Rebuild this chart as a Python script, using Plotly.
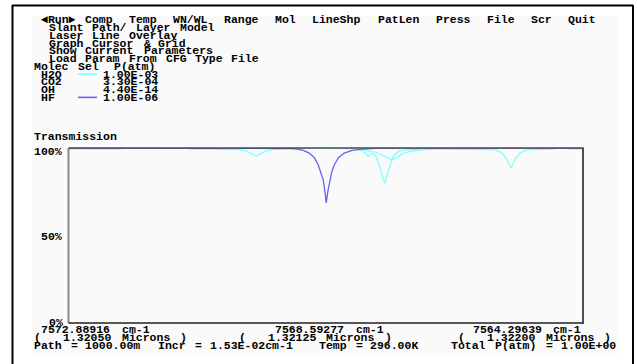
import plotly.graph_objects as go

W, H = 637, 364

# ---------------- data ----------------
wn_left, wn_mid, wn_right = 7572.88916, 7568.59277, 7564.29639

h2o_wn = [7572.8892, 7572.0216, 7571.9548, 7570.9204, 7570.8536, 7570.0527, 7569.9193,
          7569.8191, 7569.7524, 7569.6857, 7569.5855, 7569.4854, 7569.3519, 7569.1517,
          7568.1006, 7567.9838, 7567.9171, 7567.8837, 7567.8336, 7567.7669, 7567.7168,
          7567.6667, 7567.6084, 7567.5500, 7567.4999, 7567.4499, 7567.3831, 7567.2664,
          7567.0161, 7566.6824, 7565.8481, 7565.7313, 7565.6478, 7565.5811, 7565.5311,
          7565.4977, 7565.4643, 7565.4143, 7565.3475, 7565.2641, 7565.1473, 7564.7970,
          7564.7302, 7564.5634, 7564.5133, 7564.2964]
h2o_t = [99.3, 99.3, 100.0, 100.0, 99.3, 99.1, 98.3,
         96.6, 95.4, 96.6, 98.3, 99.1, 99.4, 100.0,
         99.7, 98.3, 96.6, 94.9, 97.1, 96.0, 92.0,
         86.3, 79.8, 86.3, 92.0, 96.0, 98.0, 98.9,
         99.3, 99.3, 99.1, 98.6, 97.1, 94.3, 90.9,
         88.4, 90.9, 94.3, 97.1, 98.6, 99.1, 99.3,
         100.0, 100.0, 99.3, 99.3]

# second, shallow cyan curve crossing the strong H2O line
h2o_b_wn = [7568.0172, 7567.8837, 7567.7669, 7567.6501, 7567.5500, 7567.4833,
            7567.4165, 7567.3164, 7567.1829, 7567.0161, 7566.7658]
h2o_b_t = [99.3, 98.6, 97.7, 96.0, 94.3, 93.1, 94.3, 96.6, 98.0, 98.9, 99.3]

hf_wn = [7572.8892, 7569.2686, 7569.1851, 7569.0683, 7568.9682, 7568.8681, 7568.7847,
         7568.7179, 7568.6679, 7568.6345, 7568.6061, 7568.5845, 7568.5594, 7568.5260,
         7568.4927, 7568.4510, 7568.3842, 7568.2841, 7568.1506, 7567.9838, 7567.8003,
         7567.6835, 7564.2964]
hf_t = [100.0, 100.0, 99.7, 99.3, 98.6, 97.1, 94.6,
        90.3, 85.7, 81.7, 74.9, 68.6, 74.9, 81.7,
        86.3, 90.3, 94.3, 97.1, 98.7, 99.3, 99.7,
        100.0, 100.0]

menu_rows = [
    " \u25c4Run\u25ba Comp  Temp  WN/WL  Range  Mol  LineShp  PatLen  Press  File  Scr  Quit",
    "  Slant Path/ Layer Model",
    "  Laser Line Overlay",
    "  Graph Cursor & Grid",
    "  Show Current Parameters",
    "  Load Param From CFG Type File",
    "Molec Sel  P(atm)",
]
molecules = ["H2O", "CO2", "OH", "HF"]
pressures = ["1.00E-03", "3.30E-04", "4.40E-14", "1.00E-06"]
mol_colors = ["#80ffff", None, None, "#6464f0"]

y_ticks = ["100%", "50%", "0%"]
wn_labels = ["7572.88916 cm-1", "7568.59277 cm-1", "7564.29639 cm-1"]
micron_labels = ["1.32050", "1.32125", "1.32200"]
status_row = "Path = 1000.00m  Incr = 1.53E-02cm-1   Temp = 296.00K    Total P(atm) = 1.00E+00"

# ---------------- layout helpers ----------------
X0, COLW = 32.0, 7.3125
Y0, ROWH = 16.0, 7.75
FONT = dict(family="Liberation Mono, DejaVu Sans Mono, monospace", size=11.5,
            color="#000000", weight="bold")


def px(x):
    return x / W


def py(y):
    return 1 - y / H


def rowy(r):
    return Y0 + (r + 0.5) * ROWH


annotations = []


def token(s, x, row):
    annotations.append(dict(text=s, x=px(x), y=py(rowy(row)),
                            xref="paper", yref="paper", xanchor="left", yanchor="middle",
                            showarrow=False, font=FONT))


def text_at(s, col, row):
    # place each word on the 8-pixel character grid of the original screen
    i = 0
    while i < len(s):
        if s[i] == " ":
            i += 1
            continue
        j = i
        while j < len(s) and s[j] != " ":
            j += 1
        token(s[i:j], X0 + (col + i) * COLW, row)
        i = j


for i, s in enumerate(menu_rows):
    text_at(s, 0, i)
for i, m in enumerate(molecules):
    text_at(m, 1, 7 + i)
    token(pressures[i], 101, 7 + i)

text_at("Transmission", 0, 15)
text_at(y_ticks[0], 0, 17)
text_at(y_ticks[1], 1, 28)
text_at(y_ticks[2], 2, 39)

text_at(wn_labels[0], 1, 40)
text_at(wn_labels[1], 33, 40)
text_at(wn_labels[2], 60, 40)
text_at("(   " + micron_labels[0] + " Microns )", 0, 41)
text_at("(   " + micron_labels[1] + " Microns )", 28, 41)
text_at("(   " + micron_labels[2] + " Microns )", 58, 41)
text_at(status_row, 0, 42)

# ---------------- figure ----------------
PL, PR, PT, PB = 68.5, 583.0, 148.0, 323.0

fig = go.Figure()
fig.add_trace(go.Scatter(x=h2o_b_wn, y=h2o_b_t, mode="lines",
                         line=dict(color="#80ffff", width=1.3), showlegend=False))
fig.add_trace(go.Scatter(x=h2o_wn, y=h2o_t, mode="lines",
                         line=dict(color="#80ffff", width=1.3), showlegend=False))
fig.add_trace(go.Scatter(x=hf_wn, y=hf_t, mode="lines",
                         line=dict(color="#6464f0", width=1.3), showlegend=False))

shapes = []
# screen area
shapes.append(dict(type="rect", xref="paper", yref="paper", x0=px(32), x1=px(617),
                   y0=py(355), y1=py(16), fillcolor="#fafafa", line=dict(width=0),
                   layer="below"))
# outer black border
for (x0, y0, x1, y1) in [(12, 5.5, 633, 5.5), (12.5, 5, 12.5, 364), (633, 5, 633, 364)]:
    shapes.append(dict(type="line", xref="paper", yref="paper", x0=px(x0), x1=px(x1),
                       y0=py(y0), y1=py(y1), line=dict(color="#000000", width=2)))
# plot frame
shapes.append(dict(type="line", xref="paper", yref="paper", x0=px(PL), x1=px(PL),
                   y0=py(PT), y1=py(PB), line=dict(color="#8a8a8a", width=2), layer="above"))
shapes.append(dict(type="line", xref="paper", yref="paper", x0=px(PL), x1=px(PR + 1),
                   y0=py(PT), y1=py(PT), line=dict(color="#4a4a4a", width=1.5), layer="above"))
shapes.append(dict(type="line", xref="paper", yref="paper", x0=px(PR), x1=px(PR),
                   y0=py(PT), y1=py(PB + 1), line=dict(color="#505050", width=2), layer="above"))
shapes.append(dict(type="line", xref="paper", yref="paper", x0=px(PL), x1=px(PR),
                   y0=py(PB), y1=py(PB), line=dict(color="#202020", width=1.5), layer="above"))
# legend line samples
for i, c in enumerate(mol_colors):
    if c:
        yy = rowy(7 + i)
        shapes.append(dict(type="line", xref="paper", yref="paper", x0=px(78), x1=px(97),
                           y0=py(yy), y1=py(yy), line=dict(color=c, width=1.6)))

fig.update_layout(
    width=W, height=H, margin=dict(l=0, r=0, t=0, b=0),
    paper_bgcolor="#ffffff", plot_bgcolor="#fcfcfc",
    xaxis=dict(domain=[px(PL), px(PR)], range=[wn_left, wn_right], showgrid=False,
               zeroline=False, showticklabels=False, ticks="", showline=False),
    yaxis=dict(domain=[py(PB), py(PT)], range=[0, 100], showgrid=False,
               zeroline=False, showticklabels=False, ticks="", showline=False),
    shapes=shapes, annotations=annotations, showlegend=False,
)

fig.write_html("out.html", config={"displayModeBar": False},
               post_script="document.body.style.margin='0';")
